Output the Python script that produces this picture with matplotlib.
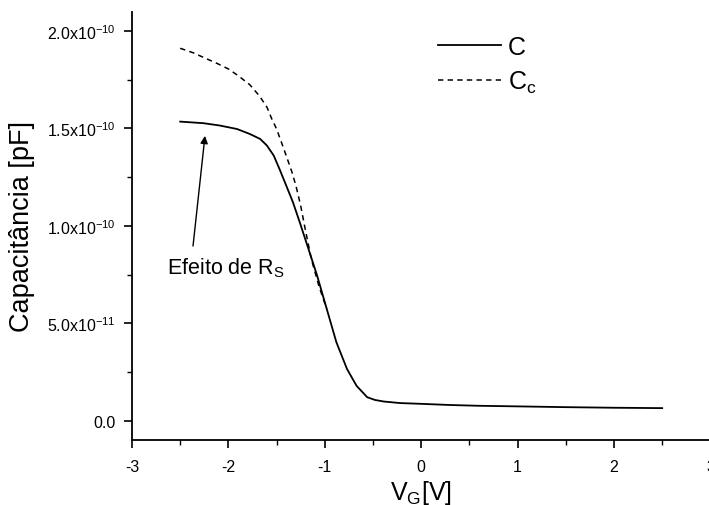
import matplotlib
matplotlib.use('Agg')
import matplotlib.pyplot as plt
from matplotlib.ticker import FixedLocator, FixedFormatter, MultipleLocator

plt.rcParams['font.family'] = ['Liberation Sans', 'DejaVu Sans']
plt.rcParams['mathtext.fontset'] = 'custom'
plt.rcParams['mathtext.rm'] = 'Liberation Sans'
plt.rcParams['mathtext.it'] = 'Liberation Sans:italic'
plt.rcParams['mathtext.bf'] = 'Liberation Sans:bold'
plt.rcParams['axes.unicode_minus'] = False

# ---- data (capacitance in units of 1e-10) ----
vg_c = [-2.50, -2.26, -2.09, -1.91, -1.78, -1.67, -1.60, -1.53, -1.47, -1.40,
        -1.33, -1.26, -1.17, -1.08, -0.98, -0.88, -0.77, -0.67, -0.56, -0.48,
        -0.39, -0.22, 0.00, 0.30, 0.60, 1.00, 1.50, 2.00, 2.50]
cap_c = [1.535, 1.527, 1.515, 1.497, 1.472, 1.446, 1.412, 1.361, 1.292, 1.207,
         1.121, 1.019, 0.883, 0.746, 0.575, 0.404, 0.267, 0.180, 0.122, 0.108,
         0.100, 0.092, 0.088, 0.082, 0.078, 0.075, 0.071, 0.068, 0.066]

vg_cc = [-2.50, -2.36, -2.24, -2.12, -2.00, -1.90, -1.78, -1.68, -1.60, -1.55,
         -1.50, -1.45, -1.40, -1.34, -1.30, -1.25, -1.21, -1.14, -1.06, -0.98]
cap_cc = [1.911, 1.887, 1.860, 1.834, 1.805, 1.771, 1.725, 1.668, 1.609, 1.549,
          1.497, 1.429, 1.360, 1.275, 1.207, 1.104, 1.001, 0.831, 0.690, 0.575]

scale = 1e-10

xtick_values = [-3, -2, -1, 0, 1, 2, 3]
xtick_labels = ['-3', '-2', '-1', '0', '1', '2', '3']
ytick_values = [0.0, 5.0e-11, 1.0e-10, 1.5e-10, 2.0e-10]
ytick_labels = ['0.0', r'5.0x10$^{\mathrm{-11}}$', r'1.0x10$^{\mathrm{-10}}$',
                r'1.5x10$^{\mathrm{-10}}$', r'2.0x10$^{\mathrm{-10}}$']

legend_labels = ['C', r'C$_{\mathrm{c}}$']
annot_text = r'Efeito de R$_{\mathrm{S}}$'
xlabel = r'V$_{\mathrm{G}}$[V]'
ylabel = 'Capacitância [pF]'

# ---- figure ----
W, H = 709, 506
fig = plt.figure(figsize=(W / 100, H / 100), dpi=100)
ax = fig.add_axes([132 / W, 1 - 441 / H, (710.4 - 132) / W, (441 - 13) / H])

l1, = ax.plot(vg_c, [v * scale for v in cap_c], color='black', lw=1.3)
l2, = ax.plot(vg_cc, [v * scale for v in cap_cc], color='black', lw=1.1,
              linestyle=(0, (3.5, 2.8)))

ax.set_xlim(-3, 3)
ax.set_ylim(-0.0974e-10, 2.097e-10)

for s in ['top', 'right']:
    ax.spines[s].set_visible(False)
for s in ['left', 'bottom']:
    ax.spines[s].set_linewidth(1.3)

ax.xaxis.set_major_locator(FixedLocator(xtick_values))
ax.xaxis.set_major_formatter(FixedFormatter(xtick_labels))
ax.xaxis.set_minor_locator(MultipleLocator(0.5))
ax.yaxis.set_major_locator(FixedLocator(ytick_values))
ax.yaxis.set_major_formatter(FixedFormatter(ytick_labels))
ax.yaxis.set_minor_locator(MultipleLocator(2.5e-11))

ax.tick_params(which='major', direction='out', length=6, width=1.2,
               labelsize=11.5)
ax.tick_params(which='minor', direction='out', length=3.5, width=1.0)
ax.tick_params(axis='x', which='major', pad=7.5)
ax.tick_params(axis='y', which='major', pad=6)

ax.set_xlabel(xlabel, fontsize=18, labelpad=3)
ax.set_ylabel(ylabel, fontsize=19.5, labelpad=8)

leg = ax.legend([l1, l2], legend_labels, loc='upper left',
                bbox_to_anchor=(438 / W, 1 - 36 / H),
                bbox_transform=fig.transFigure, frameon=False,
                fontsize=18, handlelength=2.5, handletextpad=0.3,
                borderpad=0, borderaxespad=0, labelspacing=0.4)

# annotation: arrow and text
ax.annotate('', xy=(-2.243, 1.462e-10), xytext=(-2.367, 0.897e-10),
            arrowprops=dict(arrowstyle='-|>', color='black', lw=1.0,
                            mutation_scale=11, shrinkA=0, shrinkB=0))
ax.text(-2.635, 0.79e-10, annot_text, fontsize=15.5, ha='left', va='center')

fig.savefig('out.png', dpi=100)
